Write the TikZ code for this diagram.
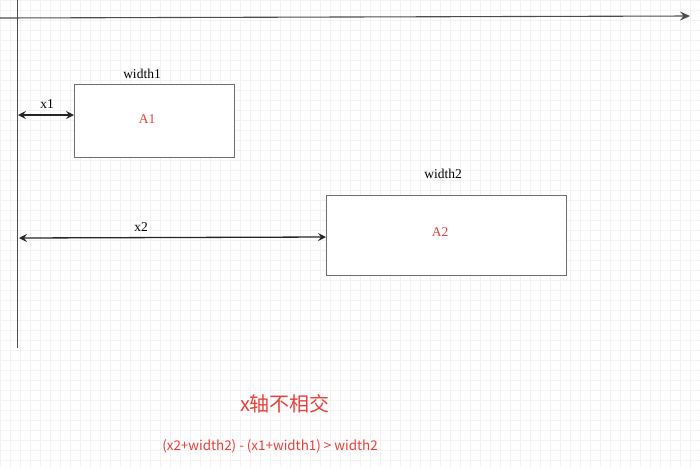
\documentclass[tikz,border=0pt]{standalone}
\usepackage{fontspec}
\setmainfont{Liberation Serif}
\newfontfamily\cjk{Noto Sans CJK SC}
\usetikzlibrary{arrows.meta}
\definecolor{redtxt}{HTML}{E8403A}
\definecolor{boxline}{HTML}{6E6E6E}
\begin{document}
\begin{tikzpicture}[x=1pt,y=-1pt,
  box/.style={draw=boxline,line width=1.4pt,fill=white,anchor=north west,inner sep=0pt},
  lbl/.style={font=\fontsize{13.5}{15}\selectfont,inner sep=0pt},
  redlbl/.style={font=\fontsize{13.5}{15}\selectfont,text=redtxt,inner sep=0pt},
  dim/.style={line width=1.3pt,black!85,{Stealth[length=8pt,width=8pt,inset=3pt]}-{Stealth[length=8pt,width=8pt,inset=3pt]}},
  axis/.style={line width=0.9pt,black!70}]
\fill[white] (0,0) rectangle (700,467);
\useasboundingbox (0,0) rectangle (700,467);
\draw[black!5,step=10pt] (0,0) grid (700,467);
% axes
\coordinate (xs) at (0,18);
\coordinate (xe) at (690,16);
\coordinate (ys) at (17,0);
\coordinate (ye) at (17,348);
\draw[axis,line width=1.1pt,-{Stealth[length=10pt,width=9pt,inset=3.5pt]}] (xs) -- (xe);
\draw[axis] (ys) -- (ye);
% boxes
\node[box,minimum width=160pt,minimum height=73pt] (A1) at (74,84) {};
\node[redlbl] (A1t) at (147,119) {A1};
\node[lbl] (w1) at (142,74) {width1};
\node[box,minimum width=240pt,minimum height=80pt] (A2) at (326,195) {};
\node[redlbl] (A2t) at (440,232) {A2};
\node[lbl] (w2) at (443,174) {width2};
% dimension arrows
\coordinate (d1s) at (18,115);
\coordinate (d1e) at (A1.west |- 0,115);
\draw[dim] (d1s) -- (d1e);
\node[lbl] (x1) at (47,104) {x1};
\coordinate (d2s) at (19,238);
\coordinate (d2e) at (326,237);
\draw[dim] (d2s) -- (d2e);
\node[lbl] (x2) at (141,227) {x2};
% captions
\node[inner sep=0pt,text=redtxt,font=\cjk\fontsize{20}{23}\selectfont] (cap) at (285,404) {x轴不相交};
\node[inner sep=0pt,text=redtxt,font=\cjk\fontsize{13.4}{15}\selectfont] (form) at (270,446) {(x2+width2) - (x1+width1) > width2};
\end{tikzpicture}
\end{document}
